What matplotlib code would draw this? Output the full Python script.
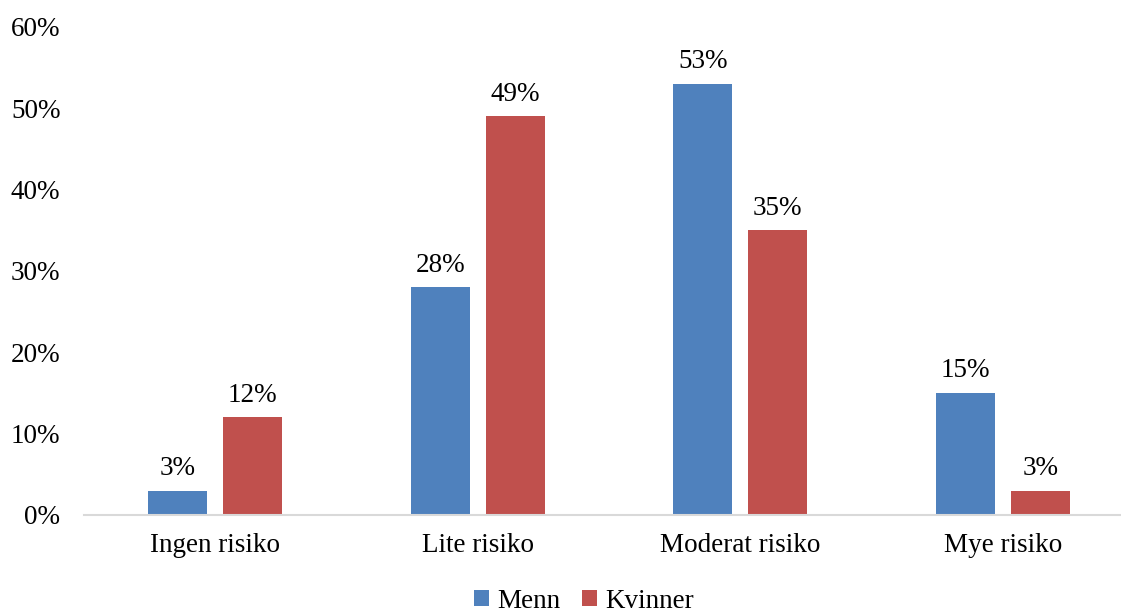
import matplotlib.pyplot as plt
import numpy as np

# Risk categories and share per group (percent)
categories = ['Ingen risiko', 'Lite risiko', 'Moderat risiko', 'Mye risiko']
menn = [3, 28, 53, 15]
kvinner = [12, 49, 35, 3]
yticks = [0, 10, 20, 30, 40, 50, 60]

plt.rcParams['font.family'] = ['Liberation Serif', 'DejaVu Serif']
fs = 19.5

fig = plt.figure(figsize=(11.21, 6.09), dpi=100)
ax = fig.add_axes([84 / 1121, 94 / 609, 1050 / 1121, 488 / 609])

x = np.arange(len(categories))
w = 0.225
off = (w + 0.061) / 2
b1 = ax.bar(x - off, menn, w, color='#4F81BD', label='Menn')
b2 = ax.bar(x + off, kvinner, w, color='#C0504D', label='Kvinner')

for bars in (b1, b2):
    for b in bars:
        h = b.get_height()
        ax.annotate(f'{h}%', (b.get_x() + b.get_width() / 2, h),
                    xytext=(0, 7), textcoords='offset points',
                    ha='center', va='bottom', fontsize=fs)

ax.set_xlim(-0.5, 3.5)
ax.set_ylim(0, 60)
ax.set_yticks(yticks)
ax.set_yticklabels([f'{t}%' for t in yticks])
ax.set_xticks(x)
ax.set_xticklabels(categories)
ax.tick_params(axis='both', length=0, labelsize=fs, colors='black')
ax.tick_params(axis='x', pad=13)
ax.tick_params(axis='y', pad=17)

for s in ('left', 'right', 'top'):
    ax.spines[s].set_visible(False)
ax.spines['bottom'].set_color('#D9D9D9')
ax.spines['bottom'].set_linewidth(1.5)

ax.legend(loc='center', bbox_to_anchor=(500 / 1050, -86 / 488), ncol=2,
          frameon=False, fontsize=fs, handlelength=0.55, handleheight=0.55,
          handletextpad=0.3, columnspacing=0.8)

fig.savefig('out.png', dpi=100)
